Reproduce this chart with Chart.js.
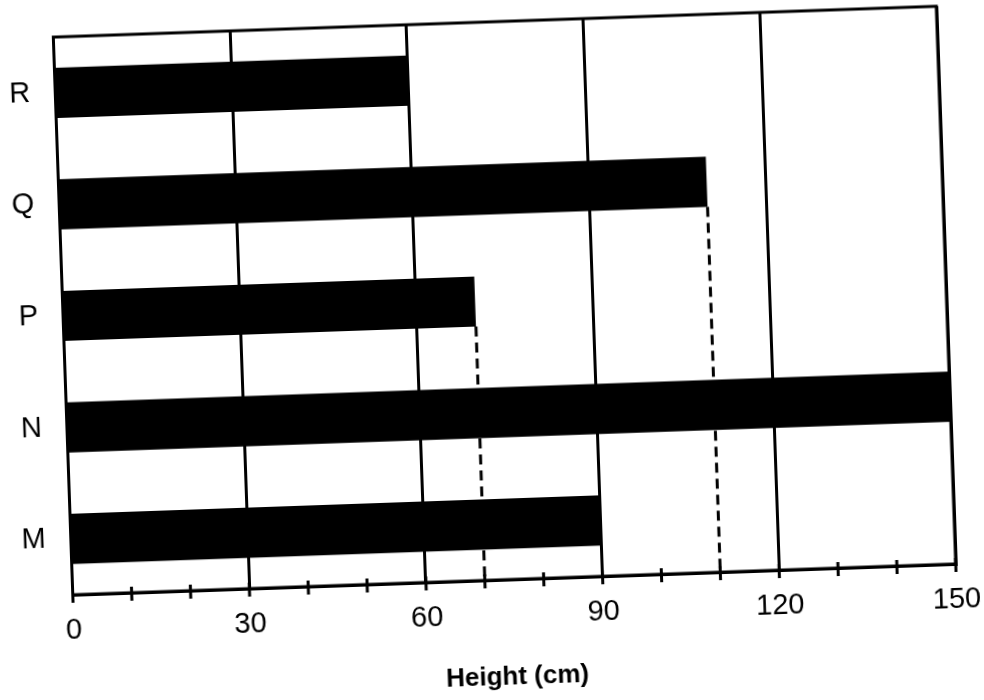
<!DOCTYPE html>
<html>
<head>
<meta charset="utf-8">
<title>Height (cm)</title>
<script src="https://cdn.jsdelivr.net/npm/chart.js@4.4.1/dist/chart.umd.min.js"></script>
<style>
    html, body { margin: 0; padding: 0; background: #fff; overflow: hidden; }
    /* the scanned original sits slightly tilted on the page */
    #wrap { width: 984px; height: 700px; transform: rotate(-2deg); transform-origin: 492px 350px; }
</style>
</head>
<body>
<div id="wrap"><canvas id="heightChart" width="984" height="700"></canvas></div>
<script>
// Data (top to bottom)
const categories = ['R', 'Q', 'P', 'N', 'M'];
const heights = [60, 110, 70, 150, 90];
const xTickLabels = [0, 30, 60, 90, 120, 150];
const minorStep = 10;
// bars with a dashed drop line down to the axis
const droppedBars = ['P', 'Q'];

Chart.defaults.font.family = '"Liberation Sans", Arial, sans-serif';
Chart.defaults.color = '#000';

// dashed lines from the bar end down to the x axis (drawn under the bars)
const dropLines = {
    id: 'dropLines',
    beforeDatasetsDraw(chart) {
        const { ctx, chartArea } = chart;
        const meta = chart.getDatasetMeta(0);
        ctx.save();
        ctx.strokeStyle = '#000';
        ctx.lineWidth = 3;
        ctx.setLineDash([10, 6]);
        droppedBars.forEach(name => {
            const bar = meta.data[categories.indexOf(name)];
            ctx.beginPath();
            ctx.moveTo(bar.x, bar.y + bar.height / 2);
            ctx.lineTo(bar.x, chartArea.bottom);
            ctx.stroke();
        });
        ctx.restore();
    }
};

// plot frame and small tick marks crossing the x axis
const frameAndTicks = {
    id: 'frameAndTicks',
    afterDraw(chart) {
        const { ctx, chartArea, scales } = chart;
        ctx.save();
        ctx.strokeStyle = '#000';
        ctx.lineWidth = 3;
        ctx.strokeRect(chartArea.left, chartArea.top, chartArea.width, chartArea.height);
        for (let v = scales.x.min; v <= scales.x.max; v += minorStep) {
            const x = scales.x.getPixelForValue(v);
            ctx.beginPath();
            ctx.moveTo(x, chartArea.bottom - 6);
            ctx.lineTo(x, chartArea.bottom + 8);
            ctx.stroke();
        }
        ctx.restore();
    }
};

const ctx = document.getElementById('heightChart').getContext('2d');
new Chart(ctx, {
    type: 'bar',
    data: {
        labels: categories,
        datasets: [{
            data: heights,
            backgroundColor: '#000',
            borderWidth: 0,
            barPercentage: 0.45,
            categoryPercentage: 1
        }]
    },
    options: {
        indexAxis: 'y',
        responsive: false,
        animation: false,
        layout: { padding: { top: 22, right: 36, bottom: 0, left: 0 } },
        plugins: {
            legend: { display: false },
            tooltip: { enabled: false }
        },
        scales: {
            x: {
                min: 0,
                max: 150,
                ticks: {
                    stepSize: minorStep,
                    autoSkip: false,
                    maxRotation: 0,
                    padding: 19,
                    font: { size: 29 },
                    callback: value => xTickLabels.includes(value) ? value : ''
                },
                grid: {
                    color: c => xTickLabels.includes(c.tick.value) ? '#000' : 'rgba(0,0,0,0)',
                    lineWidth: 3,
                    drawTicks: false
                },
                border: { color: '#000', width: 3 },
                title: {
                    display: true,
                    text: 'Height (cm)',
                    font: { size: 26, weight: 'bold' },
                    padding: { top: 20, bottom: 7 }
                },
                afterFit(scale) {
                    scale.height = 120;
                    // the end label may overhang; keep the right margin as set
                    scale.paddingLeft = 0;
                    scale.paddingRight = 0;
                }
            },
            y: {
                ticks: { padding: 25, font: { size: 29 } },
                grid: { display: false, drawTicks: false },
                border: { color: '#000', width: 3 },
                afterFit(scale) {
                    scale.width = 64.5;
                    // keep the label padding from pushing the plot top down
                    scale.paddingTop = 0;
                    scale.paddingBottom = 0;
                }
            }
        }
    },
    plugins: [dropLines, frameAndTicks]
});
</script>
</body>
</html>
